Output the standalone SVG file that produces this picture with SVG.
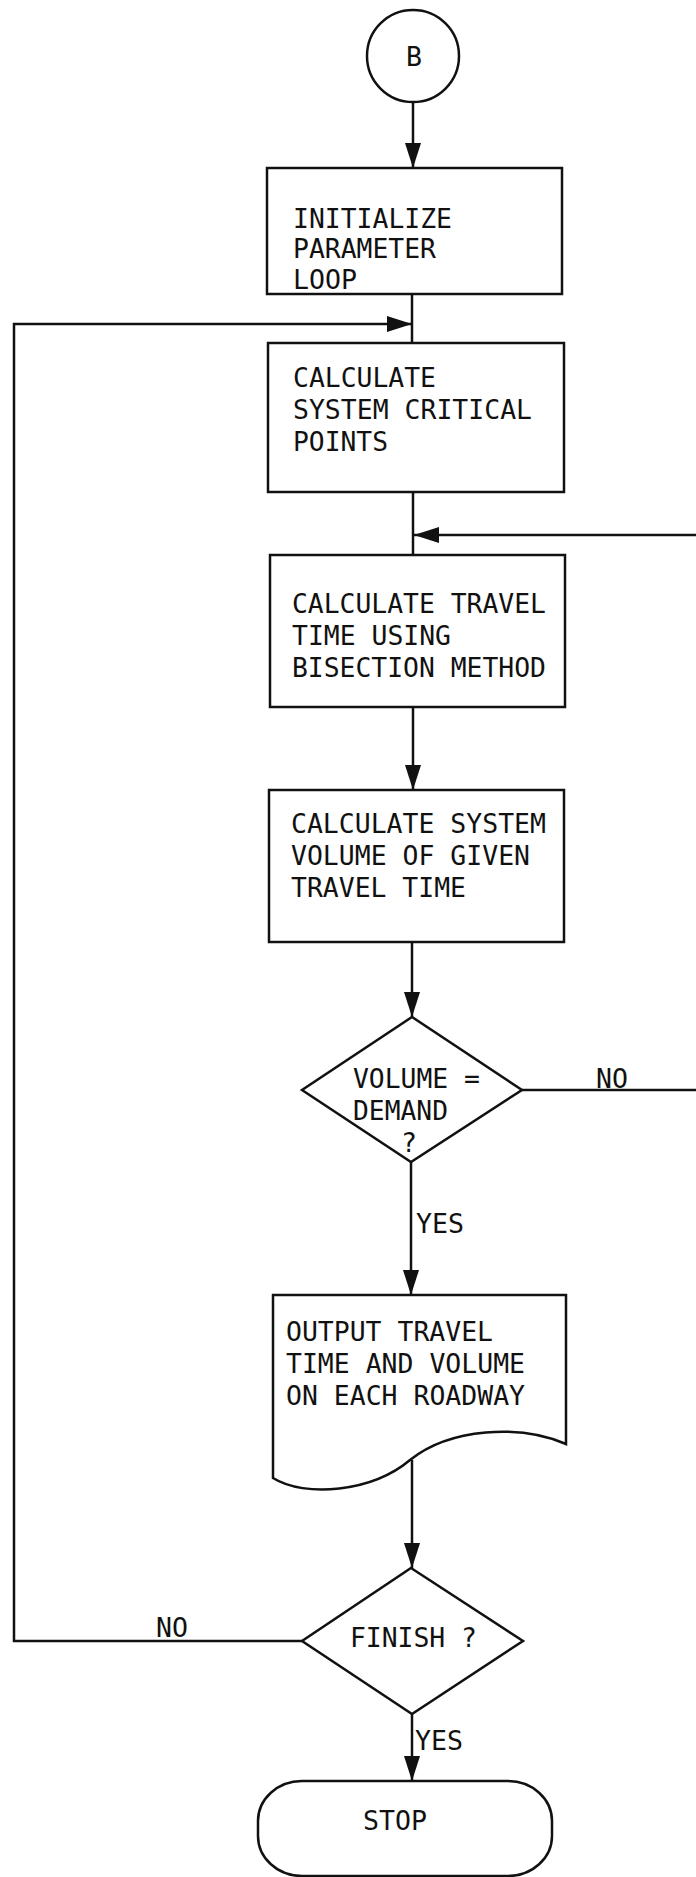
<svg xmlns="http://www.w3.org/2000/svg" width="696" height="1877" viewBox="0 0 696 1877">
<style>
.s{fill:#fff;stroke:#111;stroke-width:2.5}
.c{fill:none;stroke:#111;stroke-width:2.5}
.t{font-family:"DejaVu Sans Mono","Liberation Mono",monospace;font-size:27.4px;fill:#111}
</style>
<defs>
<marker id="ah" markerUnits="userSpaceOnUse" markerWidth="26" markerHeight="16" refX="25" refY="8" orient="auto">
<path d="M0,0 L25,8 L0,16 z" fill="#111"/>
</marker>
</defs>
<rect width="696" height="1877" fill="#fff"/>
<g id="connectors">
<path class="c" d="M413,102 V168" marker-end="url(#ah)"/>
<path class="c" d="M412,294 V343"/>
<path class="c" d="M302,1641 H14 V324 H412" marker-end="url(#ah)"/>
<path class="c" d="M413,492 V555"/>
<path class="c" d="M696,535 H414" marker-end="url(#ah)"/>
<path class="c" d="M413,707 V790" marker-end="url(#ah)"/>
<path class="c" d="M412,942 V1017" marker-end="url(#ah)"/>
<path class="c" d="M522,1090 H696"/>
<path class="c" d="M411,1162 V1295" marker-end="url(#ah)"/>
<path class="c" d="M412,1460 V1568" marker-end="url(#ah)"/>
<path class="c" d="M412,1714 V1781" marker-end="url(#ah)"/>
<text class="t" x="596" y="1088" textLength="32" lengthAdjust="spacingAndGlyphs">NO</text>
<text class="t" x="416" y="1233" textLength="48" lengthAdjust="spacingAndGlyphs">YES</text>
<text class="t" x="156" y="1637" textLength="32" lengthAdjust="spacingAndGlyphs">NO</text>
<text class="t" x="415" y="1750" textLength="48" lengthAdjust="spacingAndGlyphs">YES</text>
</g>
<g id="start">
<circle class="s" cx="413" cy="56" r="46"/>
<text class="t" x="406" y="66" textLength="16" lengthAdjust="spacingAndGlyphs">B</text>
</g>
<g id="init">
<rect class="s" x="267" y="168" width="295" height="126"/>
<text class="t" x="293" y="228" textLength="159" lengthAdjust="spacingAndGlyphs">INITIALIZE</text>
<text class="t" x="293" y="258" textLength="143" lengthAdjust="spacingAndGlyphs">PARAMETER</text>
<text class="t" x="293" y="289" textLength="64" lengthAdjust="spacingAndGlyphs">LOOP</text>
</g>
<g id="critical">
<rect class="s" x="268" y="343" width="296" height="149"/>
<text class="t" x="293" y="387" textLength="143" lengthAdjust="spacingAndGlyphs">CALCULATE</text>
<text class="t" x="293" y="419" textLength="239" lengthAdjust="spacingAndGlyphs">SYSTEM CRITICAL</text>
<text class="t" x="293" y="451" textLength="95" lengthAdjust="spacingAndGlyphs">POINTS</text>
</g>
<g id="bisection">
<rect class="s" x="270" y="555" width="295" height="152"/>
<text class="t" x="292" y="613" textLength="254" lengthAdjust="spacingAndGlyphs">CALCULATE TRAVEL</text>
<text class="t" x="292" y="645" textLength="159" lengthAdjust="spacingAndGlyphs">TIME USING</text>
<text class="t" x="292" y="677" textLength="254" lengthAdjust="spacingAndGlyphs">BISECTION METHOD</text>
</g>
<g id="volume">
<rect class="s" x="269" y="790" width="295" height="152"/>
<text class="t" x="291" y="833" textLength="255" lengthAdjust="spacingAndGlyphs">CALCULATE SYSTEM</text>
<text class="t" x="291" y="865" textLength="239" lengthAdjust="spacingAndGlyphs">VOLUME OF GIVEN</text>
<text class="t" x="291" y="897" textLength="175" lengthAdjust="spacingAndGlyphs">TRAVEL TIME</text>
</g>
<g id="decision1">
<polygon class="s" points="412,1017 522,1090 411,1162 302,1090"/>
<text class="t" x="353" y="1088" textLength="127" lengthAdjust="spacingAndGlyphs">VOLUME =</text>
<text class="t" x="353" y="1120" textLength="95" lengthAdjust="spacingAndGlyphs">DEMAND</text>
<text class="t" x="401" y="1152" textLength="16" lengthAdjust="spacingAndGlyphs">?</text>
</g>
<g id="output">
<path class="s" d="M273,1295 H566 V1444 C520,1424 450,1428 410,1460 C372,1492 305,1498 273,1478 Z"/>
<text class="t" x="286" y="1341" textLength="207" lengthAdjust="spacingAndGlyphs">OUTPUT TRAVEL</text>
<text class="t" x="286" y="1373" textLength="239" lengthAdjust="spacingAndGlyphs">TIME AND VOLUME</text>
<text class="t" x="286" y="1405" textLength="239" lengthAdjust="spacingAndGlyphs">ON EACH ROADWAY</text>
</g>
<g id="decision2">
<polygon class="s" points="411,1568 523,1641 412,1714 302,1641"/>
<text class="t" x="350" y="1647" textLength="127" lengthAdjust="spacingAndGlyphs">FINISH ?</text>
</g>
<g id="stop">
<rect class="s" x="258" y="1781" width="294" height="95" rx="44" ry="40"/>
<text class="t" x="363" y="1830" textLength="64" lengthAdjust="spacingAndGlyphs">STOP</text>
</g>
</svg>
